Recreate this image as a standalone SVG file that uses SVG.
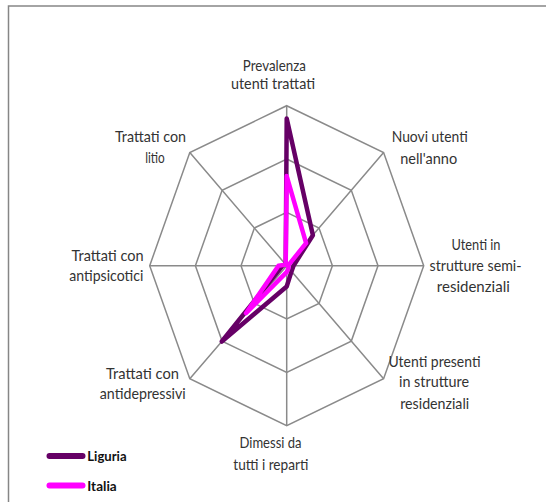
<svg xmlns="http://www.w3.org/2000/svg" width="546" height="502" viewBox="0 0 546 502">
  <style>
    .grid { fill: none; stroke: #8a8a8a; stroke-width: 1.5; }
    .lbl { font-family: Lato, "Liberation Sans", Arial, sans-serif; font-size: 15px; fill: #333333; text-anchor: middle; }
    .leg { font-family: Lato, "Liberation Sans", Arial, sans-serif; font-size: 13px; font-weight: bold; fill: #111111; }
    .ser { fill: none; stroke-width: 4.5; stroke-linejoin: round; stroke-linecap: round; }
  </style>
  <rect x="0" y="0" width="546" height="502" fill="#ffffff"/>
  <rect id="frame" x="8.5" y="6" width="560" height="520" fill="none" stroke="#868686" stroke-width="1.5"/>
  <g id="grid">
    <polygon class="grid" points="286.7,105.7 383.6,152.6 423.7,265.7 383.6,378.8 286.7,425.7 189.8,378.8 149.7,265.7 189.8,152.6"/>
    <polygon class="grid" points="286.7,159 351.3,190.3 378,265.7 351.3,341.1 286.7,372.4 222.1,341.1 195.4,265.7 222.1,190.3"/>
    <polygon class="grid" points="286.7,212.4 319,228 332.4,265.7 319,303.4 286.7,319 254.4,303.4 241,265.7 254.4,228"/>
    <path class="grid" d="M286.7,265.7 L286.7,105.7 M286.7,265.7 L383.6,152.6 M286.7,265.7 L423.7,265.7 M286.7,265.7 L383.6,378.8 M286.7,265.7 L286.7,425.7 M286.7,265.7 L189.8,378.8 M286.7,265.7 L149.7,265.7 M286.7,265.7 L189.8,152.6"/>
  </g>
  <g id="connectors">
    <polygon id="liguria" class="ser" stroke="#660066" points="286.7,118.5 312.9,235.2 293.5,265.7 291.5,271.4 286.7,286.5 221.8,341.5 282.6,265.7 285.7,264.6"/>
    <polygon id="italia" class="ser" stroke="#ff00ff" points="286.7,176.1 306.1,243.1 288.1,265.7 288.6,268 286.7,272.1 246,313.2 278.5,265.7 285.7,264.6"/>
  </g>
  <g id="axis-prevalenza">
    <text class="lbl" x="274.3" y="70.5" textLength="63" lengthAdjust="spacingAndGlyphs">Prevalenza</text>
    <text class="lbl" x="273" y="89" textLength="84" lengthAdjust="spacingAndGlyphs">utenti trattati</text>
  </g>
  <g id="axis-nuovi">
    <text class="lbl" x="429.7" y="142.3" textLength="76" lengthAdjust="spacingAndGlyphs">Nuovi utenti</text>
    <text class="lbl" x="428.7" y="164" textLength="57" lengthAdjust="spacingAndGlyphs">nell'anno</text>
  </g>
  <g id="axis-semires">
    <text class="lbl" x="476" y="250" textLength="49" lengthAdjust="spacingAndGlyphs">Utenti in</text>
    <text class="lbl" x="475.5" y="270.7" textLength="92" lengthAdjust="spacingAndGlyphs">strutture semi-</text>
    <text class="lbl" x="473.3" y="291.7" textLength="73" lengthAdjust="spacingAndGlyphs">residenziali</text>
  </g>
  <g id="axis-residenziali">
    <text class="lbl" x="434.5" y="366.7" textLength="92" lengthAdjust="spacingAndGlyphs">Utenti presenti</text>
    <text class="lbl" x="434" y="387" textLength="70" lengthAdjust="spacingAndGlyphs">in strutture</text>
    <text class="lbl" x="434.7" y="409" textLength="69" lengthAdjust="spacingAndGlyphs">residenziali</text>
  </g>
  <g id="axis-dimessi">
    <text class="lbl" x="270.5" y="448" textLength="62" lengthAdjust="spacingAndGlyphs">Dimessi da</text>
    <text class="lbl" x="270.8" y="470" textLength="75" lengthAdjust="spacingAndGlyphs">tutti i reparti</text>
  </g>
  <g id="axis-antidepressivi">
    <text class="lbl" x="142.5" y="379" textLength="73" lengthAdjust="spacingAndGlyphs">Trattati con</text>
    <text class="lbl" x="142.8" y="399" textLength="86" lengthAdjust="spacingAndGlyphs">antidepressivi</text>
  </g>
  <g id="axis-antipsicotici">
    <text class="lbl" x="107.5" y="260.7" textLength="72" lengthAdjust="spacingAndGlyphs">Trattati con</text>
    <text class="lbl" x="106.3" y="280.7" textLength="74" lengthAdjust="spacingAndGlyphs">antipsicotici</text>
  </g>
  <g id="axis-litio">
    <text class="lbl" x="150.5" y="142.3" textLength="71" lengthAdjust="spacingAndGlyphs">Trattati con</text>
    <text class="lbl" x="155" y="163.3" textLength="19.5" lengthAdjust="spacingAndGlyphs">litio</text>
  </g>
  <g id="legend">
    <line x1="49.5" y1="456" x2="82.5" y2="456" stroke="#660066" stroke-width="6" stroke-linecap="round"/>
    <text class="leg" x="87.3" y="460.5" textLength="39.3" lengthAdjust="spacingAndGlyphs">Liguria</text>
    <line x1="49.5" y1="485.5" x2="82.5" y2="485.5" stroke="#ff00ff" stroke-width="6" stroke-linecap="round"/>
    <text class="leg" x="87.3" y="490.5" textLength="29.4" lengthAdjust="spacingAndGlyphs">Italia</text>
  </g>
</svg>
